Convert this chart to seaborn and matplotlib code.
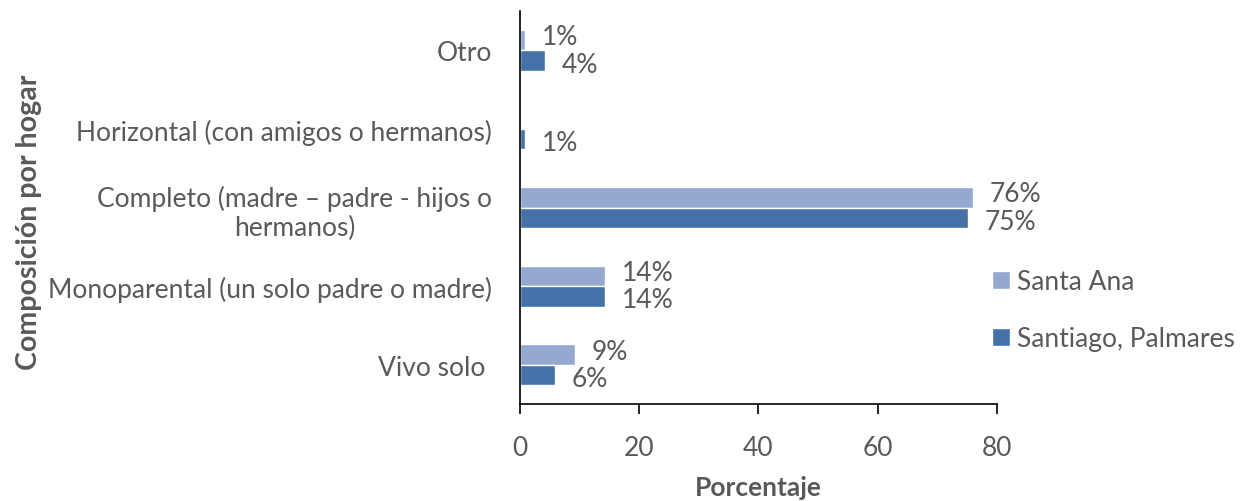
import pandas as pd
import seaborn as sns
import matplotlib.pyplot as plt

# datos
categorias = ['Otro', 'Horizontal (con amigos o hermanos)',
              'Completo (madre – padre - hijos o\nhermanos)',
              'Monoparental (un solo padre o madre)', 'Vivo solo ']
santa_ana = [0.8, 0.0, 76.0, 14.3, 9.2]
santiago = [4.2, 0.8, 75.2, 14.3, 5.9]
etiquetas_sa = ['1%', '', '76%', '14%', '9%']
etiquetas_sp = ['4%', '1%', '75%', '14%', '6%']
series = ['Santa Ana', 'Santiago, Palmares']

data = pd.DataFrame({
    'categoria': categorias * 2,
    'valor': santa_ana + santiago,
    'zona': [series[0]] * 5 + [series[1]] * 5,
})

sns.set_style('white')
plt.rcParams['font.family'] = ['Lato', 'DejaVu Sans']
gris = '#595959'
tam = 19

fig = plt.figure(figsize=(12.58, 5.02), dpi=100)
ax = fig.add_axes([0.4134, 0.193, 0.379, 0.783])

ax = sns.barplot(data=data, x='valor', y='categoria', hue='zona', order=categorias,
                 hue_order=series, palette=['#95a9d0', '#4472a8'], orient='h',
                 width=0.52, saturation=1, ax=ax)

# etiquetas de valor, un poco separadas para que no se encimen
for cont, labs, dy in zip(ax.containers, [etiquetas_sa, etiquetas_sp], [2.5, -2.5]):
    for t in ax.bar_label(cont, labels=labs, padding=12, fontsize=tam, color=gris):
        t.xyann = (12, dy)

ax.set_xlim(0, 80)
ax.set_xticks([0, 20, 40, 60, 80])
ax.tick_params(axis='x', direction='out', length=7, width=1.2, colors='black',
               labelcolor=gris, labelsize=tam, pad=15, bottom=True)
ax.tick_params(axis='y', length=0, labelcolor=gris, labelsize=tam, pad=20)
for lab in ax.get_yticklabels():
    lab.set_multialignment('center')
for s in ['top', 'right']:
    ax.spines[s].set_visible(False)
for s in ['left', 'bottom']:
    ax.spines[s].set_color('black')
    ax.spines[s].set_linewidth(1.2)

ax.set_xlabel('Porcentaje', fontsize=tam, fontweight='bold', color=gris, labelpad=11)
ax.set_ylabel('')
fig.text(0.023, 0.558, 'Composición por hogar', rotation=90, fontsize=20.5,
         fontweight='bold', color=gris, ha='center', va='center')

ax.legend_.remove()
h, l = ax.get_legend_handles_labels()
fig.legend(h, l, loc='center left', bbox_to_anchor=(0.77, 0.38), frameon=False,
           fontsize=tam, labelcolor=gris, handlelength=0.65, handleheight=0.65,
           handletextpad=0.3, labelspacing=1.2)

fig.savefig('out.png', dpi=100)
